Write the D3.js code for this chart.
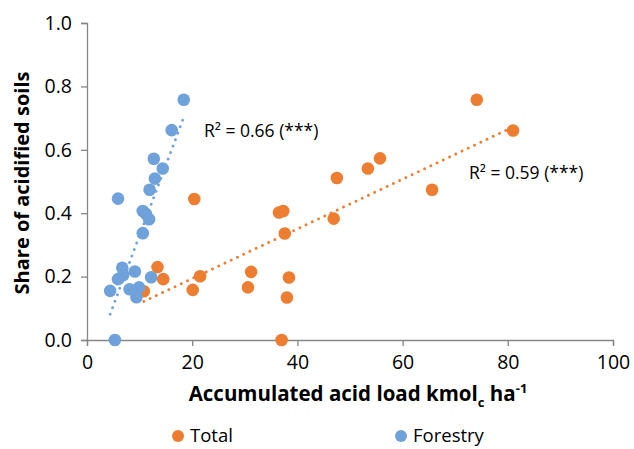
<!DOCTYPE html>
<html>
<head>
<meta charset="utf-8">
<script src="https://cdn.jsdelivr.net/npm/d3@7"></script>
<style>
  body { margin: 0; background: #fff; }
  svg { font-family: "Open Sans", sans-serif; }
</style>
</head>
<body>
<div id="chart"></div>
<script>
const totalX = [20.4, 36.5, 37.3, 37.6, 46.9, 47.5, 53.4, 55.7, 21.5, 20.1, 31.2, 30.6, 38.4, 38.0, 37.0, 74.1, 81.0, 65.6, 13.4, 14.5, 10.8];
const totalY = [0.445, 0.402, 0.407, 0.336, 0.383, 0.511, 0.541, 0.573, 0.201, 0.158, 0.215, 0.166, 0.197, 0.134, 0.0, 0.758, 0.661, 0.474, 0.230, 0.192, 0.154];

const forestX = [18.4, 16.1, 12.7, 14.4, 12.9, 11.9, 5.9, 10.6, 11.2, 11.8, 10.6, 6.7, 5.9, 6.9, 9.1, 12.2, 4.4, 8.1, 9.9, 9.4, 5.3];
const forestY = [0.758, 0.662, 0.572, 0.541, 0.509, 0.474, 0.446, 0.407, 0.398, 0.381, 0.337, 0.228, 0.192, 0.205, 0.216, 0.198, 0.155, 0.160, 0.166, 0.135, 0.0];

// trend lines [slope, intercept]
const totalTrend = [0.00784, 0.037];
const forestTrend = [0.0444, -0.114];
const totalR2 = "R² = 0.59 (***)";
const forestR2 = "R² = 0.66 (***)";

const xTicks = [0, 20, 40, 60, 80, 100];
const yTicks = [0, 0.2, 0.4, 0.6, 0.8, 1.0];

const width = 634;
const height = 449;
const margin = { top: 23, right: 21, bottom: 109, left: 87 };

const orange = "#ED7D31";
const blue = "#6FA2DB";
const axisColor = "#868686";

const svg = d3.select("#chart")
    .append("svg")
    .attr("width", width)
    .attr("height", height);

const x = d3.scaleLinear()
    .domain([0, 100])
    .range([margin.left, width - margin.right]);

const y = d3.scaleLinear()
    .domain([0, 1])
    .range([height - margin.bottom, margin.top]);

// axes
const xAxis = svg.append("g")
    .attr("transform", `translate(0,${y(0)})`)
    .call(d3.axisBottom(x).tickValues(xTicks).tickSize(6).tickPadding(9).tickFormat(d3.format("d")));

const yAxis = svg.append("g")
    .attr("transform", `translate(${x(0)},0)`)
    .call(d3.axisLeft(y).tickValues(yTicks).tickSize(6).tickPadding(9).tickFormat(d3.format(".1f")));

[xAxis, yAxis].forEach(g => {
    g.select(".domain").attr("stroke", axisColor).attr("stroke-width", 1.3);
    g.selectAll(".tick line").attr("stroke", axisColor).attr("stroke-width", 1.3);
    g.selectAll("text").attr("fill", "#000").style("font-size", "19.5px").style("font-family", "'Open Sans', sans-serif");
});

// trend lines
function trend(xs, coef) {
    const [a, b] = coef;
    const ext = d3.extent(xs);
    return [[ext[0], a * ext[0] + b], [ext[1], a * ext[1] + b]];
}

const line = d3.line().x(d => x(d[0])).y(d => y(d[1]));

// points
function drawSeries(xs, ys, color) {
    svg.append("g")
        .selectAll("circle")
        .data(xs.map((v, i) => [v, ys[i]]))
        .enter()
        .append("circle")
        .attr("cx", d => x(d[0]))
        .attr("cy", d => y(d[1]))
        .attr("r", 6.3)
        .attr("fill", color);
}

drawSeries(totalX, totalY, orange);
drawSeries(forestX, forestY, blue);

[[totalX, totalTrend, orange], [forestX, forestTrend, blue]].forEach(([xs, coef, color]) => {
    svg.append("path")
        .attr("d", line(trend(xs, coef)))
        .attr("fill", "none")
        .attr("stroke", color)
        .attr("stroke-width", 2.8)
        .attr("stroke-linecap", "round")
        .attr("stroke-dasharray", "0.1 6.8");
});

// R² labels
svg.append("text")
    .attr("x", 204)
    .attr("y", 137)
    .style("font-size", "17.5px")
    .text(forestR2);

svg.append("text")
    .attr("x", 469)
    .attr("y", 179)
    .style("font-size", "17.5px")
    .text(totalR2);

// axis titles
svg.append("text")
    .attr("transform", "rotate(-90)")
    .attr("x", -183)
    .attr("y", 29)
    .attr("text-anchor", "middle")
    .style("font-size", "20px")
    .style("font-weight", "bold")
    .text("Share of acidified soils");

const xTitle = svg.append("text")
    .attr("x", 358)
    .attr("y", 401)
    .attr("text-anchor", "middle")
    .style("font-size", "20.5px")
    .style("font-weight", "bold");
xTitle.append("tspan").text("Accumulated acid load kmol");
xTitle.append("tspan").attr("dy", 6).style("font-size", "13px").text("c");
xTitle.append("tspan").attr("dy", -6).text(" ha");
xTitle.append("tspan").attr("dy", -8).style("font-size", "13px").text("-1");

// legend
const legend = [["Total", orange, 178], ["Forestry", blue, 401]];
legend.forEach(([name, color, lx]) => {
    svg.append("circle")
        .attr("cx", lx)
        .attr("cy", 436)
        .attr("r", 6)
        .attr("fill", color);
    svg.append("text")
        .attr("x", lx + 12)
        .attr("y", 442)
        .style("font-size", "18.5px")
        .text(name);
});
</script>
</body>
</html>
